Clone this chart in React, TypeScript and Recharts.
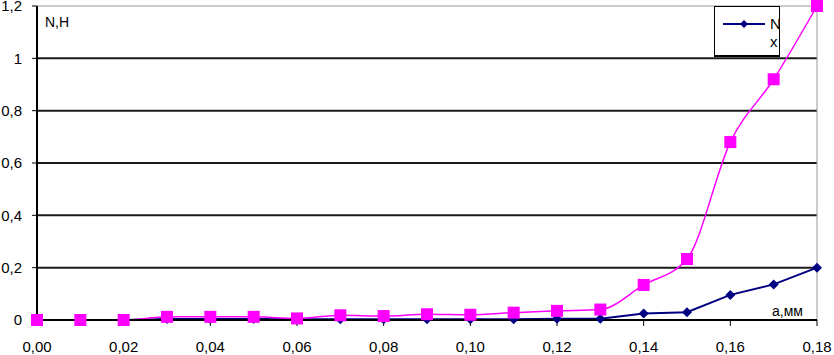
import React from "react";
import {
  LineChart,
  Line,
  XAxis,
  YAxis,
  CartesianGrid,
  ReferenceLine,
  Legend,
} from "recharts";

const aValues = [0, 0.01, 0.02, 0.03, 0.04, 0.05, 0.06, 0.07, 0.08, 0.09, 0.1, 0.11, 0.12, 0.13, 0.14, 0.15, 0.16, 0.17, 0.18];
const nxValues = [0, 0, 0, 0.004, 0.004, 0.004, 0.003, 0.003, 0.003, 0.003, 0.003, 0.003, 0.005, 0.005, 0.025, 0.03, 0.096, 0.136, 0.2];
const nhValues = [0, 0, 0, 0.012, 0.012, 0.012, 0.006, 0.018, 0.015, 0.022, 0.02, 0.028, 0.035, 0.04, 0.134, 0.233, 0.68, 0.92, 1.2];
const xTicks = [0, 0.02, 0.04, 0.06, 0.08, 0.1, 0.12, 0.14, 0.16, 0.18];
const yTicks = [0, 0.2, 0.4, 0.6, 0.8, 1, 1.2];
const gridValues = [0.2, 0.4, 0.6, 0.8, 1];

const data = aValues.map((a, i) => ({ a, nx: nxValues[i], nh: nhValues[i] }));

const fmtX = (v: number) => v.toFixed(2).replace(".", ",");
const fmtY = (v: number) => String(Math.round(v * 10) / 10).replace(".", ",");

const Square = (props: any) => {
  const { cx, cy } = props;
  if (cx == null || cy == null) return null;
  return <rect x={cx - 6} y={cy - 6} width={12} height={12} fill="#FF00FF" />;
};

const Diamond = (props: any) => {
  const { cx, cy } = props;
  if (cx == null || cy == null) return null;
  return (
    <polygon
      points={`${cx},${cy - 5} ${cx + 5},${cy} ${cx},${cy + 5} ${cx - 5},${cy}`}
      fill="#000080"
    />
  );
};

const font = "'Liberation Sans', Arial, sans-serif";

const LegendBox = () => (
  <div
    style={{
      position: "absolute",
      left: 714,
      top: 6,
      width: 64,
      height: 48,
      border: "1px solid #000",
      borderBottomWidth: 2,
      background: "#fff",
      fontFamily: font,
      fontSize: 15,
      color: "#000",
      overflow: "hidden",
    }}
  >
    <svg width={48} height={40} style={{ position: "absolute", left: 8, top: 3 }}>
      <line x1={0} y1={14} x2={42} y2={14} stroke="#000080" strokeWidth={2} />
      <polygon points="21,10 25,14 21,18 17,14" fill="#000080" />
    </svg>
    <span style={{ position: "absolute", left: 55, top: 9, lineHeight: "15px" }}>N</span>
    <span style={{ position: "absolute", left: 55, top: 27, lineHeight: "15px" }}>x</span>
  </div>
);

export default function App() {
  return (
    <div style={{ position: "absolute", left: 0, top: 0, width: 834, height: 355, background: "#fff" }}>
      <LineChart
        width={834}
        height={355}
        data={data}
        margin={{ top: 6, right: 17, bottom: 0, left: 0 }}
      >
        <CartesianGrid vertical={false} stroke="#1a1a1a" strokeWidth={2} horizontalValues={gridValues} />
        <XAxis
          dataKey="a"
          type="number"
          domain={[0, 0.18]}
          ticks={xTicks}
          tickFormatter={fmtX}
          height={35}
          axisLine={{ stroke: "#000", strokeWidth: 2 }}
          tickLine={{ stroke: "#000" }}
          tickSize={6}
          tick={{ fill: "#000", fontSize: 15, fontFamily: font, dy: 13 }}
          interval={0}
        />
        <YAxis
          type="number"
          domain={[0, 1.2]}
          ticks={yTicks}
          tickFormatter={fmtY}
          width={37}
          axisLine={{ stroke: "#000", strokeWidth: 2 }}
          tickLine={{ stroke: "#000" }}
          tickSize={5}
          tickMargin={10}
          tick={{ fill: "#000", fontSize: 15, fontFamily: font }}
          interval={0}
        />
        <ReferenceLine y={1.2} stroke="#999" strokeWidth={1} />
        <ReferenceLine x={0.18} stroke="#999" strokeWidth={1} />
        <Legend content={() => <LegendBox />} wrapperStyle={{ position: "absolute", left: 0, top: 0, width: 0, height: 0 }} />
        <Line
          type="linear"
          dataKey="nx"
          stroke="#000080"
          strokeWidth={2}
          dot={<Diamond />}
          isAnimationActive={false}
        />
        <Line
          type="monotone"
          dataKey="nh"
          stroke="#FF00FF"
          strokeWidth={1.5}
          dot={<Square />}
          isAnimationActive={false}
          legendType="none"
        />
      </LineChart>
      <div style={{ position: "absolute", left: 45, top: 14, fontFamily: font, fontSize: 14, color: "#000", lineHeight: "normal" }}>N,H</div>
      <div style={{ position: "absolute", left: 772, top: 303, fontFamily: font, fontSize: 14, color: "#000", lineHeight: "normal" }}>a,мм</div>
    </div>
  );
}
